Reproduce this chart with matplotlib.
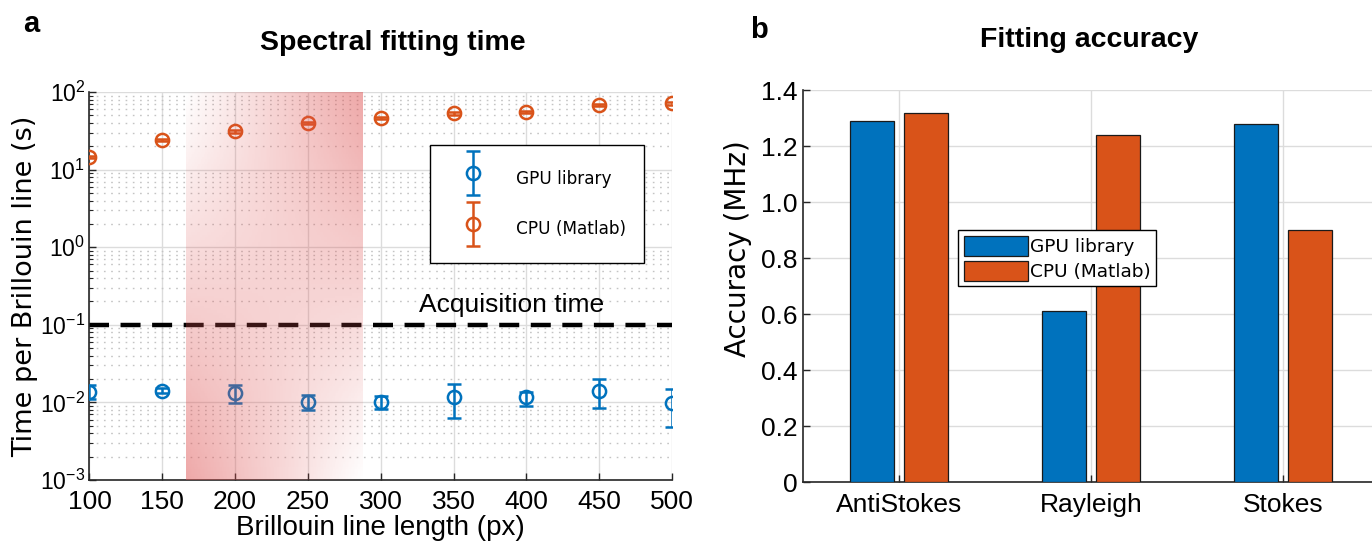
import matplotlib
matplotlib.use('Agg')
import matplotlib.pyplot as plt
import numpy as np
from matplotlib.colors import LinearSegmentedColormap
from matplotlib.ticker import LogLocator, NullFormatter
from matplotlib.container import ErrorbarContainer
from matplotlib.legend_handler import HandlerErrorbar

# panel a: fitting time per Brillouin line (s)
lineLengths = [100, 150, 200, 250, 300, 350, 400, 450, 500]
gpuTime = [0.0135, 0.0141, 0.0133, 0.0100, 0.0102, 0.0118, 0.0116, 0.0141, 0.0098]
gpuErrLow = [0.0026, 0.0010, 0.0036, 0.0020, 0.0020, 0.0055, 0.0025, 0.0057, 0.0050]
gpuErrHigh = [0.0032, 0.0013, 0.0034, 0.0024, 0.0020, 0.0056, 0.0021, 0.0057, 0.0049]
cpuTime = [14.6, 24.3, 31.1, 40.2, 46.2, 53.0, 55.8, 68.7, 71.4]
cpuErr = [0.5, 0.8, 1.0, 1.3, 1.5, 1.7, 1.8, 2.2, 2.3]
acquisitionTime = 0.1
shadeRange = (167, 287)

# panel b: fitting accuracy (MHz)
peaks = ['AntiStokes', 'Rayleigh', 'Stokes']
gpuAcc = [1.29, 0.61, 1.28]
cpuAcc = [1.32, 1.24, 0.90]
accTicks = [0, 0.2, 0.4, 0.6, 0.8, 1.0, 1.2, 1.4]
accTickLabels = ['0', '0.2', '0.4', '0.6', '0.8', '1.0', '1.2', '1.4']

blue = '#0072BD'
orange = '#D95319'
gridCol = '#dcdcdc'
axCol = '#262626'


def main():
    plt.rcParams['font.family'] = ['Liberation Sans', 'DejaVu Sans']
    plt.rcParams['axes.unicode_minus'] = False
    plt.rcParams['xtick.direction'] = 'in'
    plt.rcParams['ytick.direction'] = 'in'

    fig = plt.figure(figsize=(13.72, 5.41), dpi=100)

    # ---------------- panel a ----------------
    ax = fig.add_axes([0.0652, 0.1128, 0.4246, 0.717])
    ax.set_yscale('log')
    ax.set_xlim(100, 500)
    ax.set_ylim(1e-3, 1e2)

    ax.errorbar(lineLengths, gpuTime, yerr=[gpuErrLow, gpuErrHigh], fmt='o',
                color=blue, mfc='none', ms=9.5, mew=1.8, elinewidth=1.8,
                capsize=5, capthick=1.8, label='GPU library', zorder=3)
    ax.errorbar(lineLengths, cpuTime, yerr=cpuErr, fmt='o',
                color=orange, mfc='none', ms=9.5, mew=1.8, elinewidth=1.8,
                capsize=5, capthick=1.8, label='CPU (Matlab)', zorder=3)

    ax.axhline(acquisitionTime, color='black', lw=3.2, dashes=(4.5, 2.6), zorder=2)
    ax.text(326, acquisitionTime * 1.25, 'Acquisition time', fontsize=19,
            ha='left', va='bottom')

    # gradient patch over the region of interest (dark top-right / bottom-left)
    nx, ny = 120, 160
    xs = np.linspace(shadeRange[0], shadeRange[1], nx)
    ys = np.logspace(-3, 2, ny)
    X, Y = np.meshgrid(xs, ys)
    u = (X - shadeRange[0]) / (shadeRange[1] - shadeRange[0])
    v = (np.log10(Y) + 3) / 5.0
    C = u * v + (1 - u) * (1 - v)
    cmap = LinearSegmentedColormap.from_list(
        'shade', [(0.87, 0.32, 0.32, 0.0), (0.87, 0.32, 0.32, 0.5)])
    ax.pcolormesh(X, Y, C, cmap=cmap, shading='nearest', vmin=0, vmax=1,
                  zorder=4, rasterized=True, edgecolors='none', antialiased=False)

    ax.set_xticks(lineLengths)
    ax.yaxis.set_major_locator(LogLocator(base=10, numticks=10))
    ax.yaxis.set_minor_locator(LogLocator(base=10, subs=np.arange(2, 10), numticks=10))
    ax.yaxis.set_minor_formatter(NullFormatter())
    ax.tick_params(axis='x', which='major', labelsize=19, length=5, width=1,
                   color=axCol, pad=7, top=False)
    ax.tick_params(axis='y', which='major', labelsize=16.5, length=5, width=1,
                   color=axCol, pad=3, right=False)
    ax.tick_params(axis='y', which='minor', length=3, width=0.8, color=axCol)
    ax.grid(True, which='major', color=gridCol, lw=1)
    ax.grid(True, which='minor', axis='y', color='#c4c4c4', lw=1,
            ls=(0, (1.2, 4)))
    ax.set_axisbelow(True)
    for s in ['top', 'right']:
        ax.spines[s].set_visible(False)
    for s in ['left', 'bottom']:
        ax.spines[s].set_color(axCol)
        ax.spines[s].set_linewidth(1.2)

    ax.set_xlabel('Brillouin line length (px)', fontsize=20, labelpad=1)
    ax.set_ylabel('Time per Brillouin line (s)', fontsize=19.5, family='DejaVu Sans')
    ax.yaxis.set_label_coords(-0.088, 0.5)
    ax.set_title('Spectral fitting time', fontsize=20.5, fontweight='bold', pad=30,
                 x=0.52)

    leg = ax.legend(loc='upper left', bbox_to_anchor=(0.585, 0.863),
                    prop={'family': 'DejaVu Sans', 'size': 12.2},
                    handler_map={ErrorbarContainer: HandlerErrorbar(yerr_size=1.3)},
                    frameon=True, fancybox=False, framealpha=1, edgecolor='black',
                    borderpad=1.05, labelspacing=1.15, handlelength=2.9,
                    handleheight=2.45, handletextpad=1.1, borderaxespad=0)
    leg.get_frame().set_linewidth(1.0)
    leg.set_zorder(5)

    fig.text(0.017, 0.94, 'a', fontsize=21, fontweight='bold')

    # ---------------- panel b ----------------
    bx = fig.add_axes([0.5853, 0.109, 0.4198, 0.724])
    pos = np.arange(1, len(peaks) + 1)
    bx.bar(pos - 0.143, gpuAcc, width=0.229, color=blue, edgecolor='#1a1a1a',
           lw=0.9, label='GPU library', zorder=3)
    bx.bar(pos + 0.143, cpuAcc, width=0.229, color=orange, edgecolor='#1a1a1a',
           lw=0.9, label='CPU (Matlab)', zorder=3)
    bx.set_xlim(0.5, 3.5)
    bx.set_ylim(0, 1.4)
    bx.set_xticks(pos)
    bx.set_xticklabels(peaks)
    bx.set_yticks(accTicks)
    bx.set_yticklabels(accTickLabels)
    bx.tick_params(axis='x', labelsize=19, length=5, width=1, color=axCol, pad=8)
    bx.tick_params(axis='y', labelsize=19, length=5, width=1, color=axCol, pad=4)
    bx.grid(True, color=gridCol, lw=1)
    bx.set_axisbelow(True)
    for s in ['top', 'right']:
        bx.spines[s].set_visible(False)
    for s in ['left', 'bottom']:
        bx.spines[s].set_color(axCol)
        bx.spines[s].set_linewidth(1.2)
    bx.set_ylabel('Accuracy (MHz)', fontsize=20, family='DejaVu Sans')
    bx.yaxis.set_label_coords(-0.088, 0.597)
    bx.set_title('Fitting accuracy', fontsize=20.5, fontweight='bold', pad=31,
                 x=0.497)

    leg2 = bx.legend(loc='upper left', bbox_to_anchor=(0.269, 0.643),
                     prop={'family': 'DejaVu Sans', 'size': 13.3},
                     frameon=True, fancybox=False, framealpha=1, edgecolor='black',
                     borderpad=0.3, labelspacing=0.25, handlelength=3.5,
                     handleheight=1.3, handletextpad=0.1, borderaxespad=0)
    leg2.get_frame().set_linewidth(1.0)

    fig.text(0.547, 0.93, 'b', fontsize=21, fontweight='bold')

    fig.savefig('out.png', dpi=100)


if __name__ == '__main__':
    main()
